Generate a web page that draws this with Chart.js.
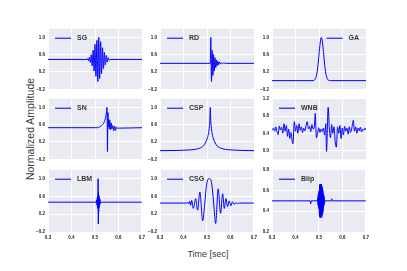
<!DOCTYPE html>
<html>
<head>
<meta charset="utf-8">
<script src="https://cdn.jsdelivr.net/npm/chart.js@4.4.0/dist/chart.umd.min.js"></script>
<style>
  body { margin: 0; background: #fff; width: 407px; height: 271px; position: relative; overflow: hidden; font-family: "Liberation Sans", Arial, sans-serif; }
  canvas { position: absolute; }
  .axis-title { position: absolute; color: #3a3a3a; white-space: nowrap; }
  #ylabel { left: 30px; top: 128.5px; font-size: 10.5px; transform: translate(-50%, -50%) rotate(-90deg); }
  #xlabel { left: 208px; top: 253.5px; font-size: 9px; transform: translate(-50%, -50%); }
</style>
</head>
<body>
<div class="axis-title" id="ylabel">Normalized Amplitude</div>
<div class="axis-title" id="xlabel">Time [sec]</div>
<script>
// tick values
const timeTicks = [0.3, 0.4, 0.5, 0.6, 0.7];
const ampTicks = [-0.2, 0.2, 0.6, 1.0];
const wnbTicks = [0.0, 0.4, 0.8, 1.2];
const blipTicks = [0.2, 0.4, 0.6, 0.8];

// waveforms
const sgTime = [0.300, 0.466, 0.468, 0.472, 0.476, 0.480, 0.484, 0.488, 0.492, 0.496, 0.500, 0.504, 0.508, 0.512, 0.516, 0.520, 0.524, 0.528, 0.532, 0.536, 0.540, 0.544, 0.548, 0.552, 0.556, 0.560, 0.564, 0.700];
const sgAmp = [0.49, 0.49, 0.51, 0.46, 0.54, 0.42, 0.60, 0.34, 0.70, 0.22, 0.84, 0.10, 0.93, -0.02, 1.00, 0.05, 0.90, 0.16, 0.76, 0.28, 0.65, 0.36, 0.58, 0.43, 0.53, 0.47, 0.49, 0.49];

const rdTime = [0.300, 0.514, 0.516, 0.519, 0.522, 0.525, 0.528, 0.531, 0.534, 0.537, 0.540, 0.543, 0.546, 0.549, 0.552, 0.556, 0.560, 0.565, 0.570, 0.580, 0.700];
const rdAmp = [0.40, 0.40, 1.00, -0.02, 0.70, 0.12, 0.60, 0.22, 0.53, 0.30, 0.48, 0.34, 0.45, 0.37, 0.43, 0.38, 0.42, 0.39, 0.41, 0.40, 0.40];

const gaTime = [0.300, 0.470, 0.480, 0.485, 0.490, 0.495, 0.500, 0.505, 0.510, 0.515, 0.520, 0.525, 0.530, 0.535, 0.540, 0.550, 0.700];
const gaAmp = [0.00, 0.00, 0.01, 0.05, 0.14, 0.32, 0.60, 0.87, 1.00, 0.87, 0.60, 0.32, 0.14, 0.05, 0.01, 0.00, 0.00];

const snTime = [0.300, 0.510, 0.520, 0.528, 0.535, 0.540, 0.544, 0.547, 0.549, 0.551, 0.552, 0.553, 0.554, 0.555, 0.557, 0.559, 0.561, 0.563, 0.566, 0.569, 0.572, 0.576, 0.580, 0.584, 0.588, 0.592, 0.596, 0.700];
const snAmp = [0.53, 0.53, 0.55, 0.58, 0.62, 0.67, 0.74, 0.82, 0.90, 1.00, 0.70, -0.02, 0.40, 0.88, 0.55, 0.72, 0.50, 0.70, 0.48, 0.64, 0.50, 0.58, 0.46, 0.56, 0.47, 0.54, 0.52, 0.53];

const cspTime = [0.300, 0.380, 0.420, 0.450, 0.470, 0.485, 0.495, 0.502, 0.507, 0.510, 0.512, 0.514, 0.516, 0.518, 0.521, 0.526, 0.533, 0.543, 0.558, 0.578, 0.608, 0.648, 0.700];
const cspAmp = [0.00, 0.005, 0.015, 0.03, 0.06, 0.11, 0.20, 0.30, 0.42, 0.55, 0.70, 1.00, 0.70, 0.55, 0.42, 0.30, 0.20, 0.11, 0.06, 0.03, 0.015, 0.005, 0.00];

const wnbTime = [0.300, 0.306, 0.311, 0.316, 0.321, 0.326, 0.331, 0.336, 0.341, 0.346, 0.351, 0.356, 0.361, 0.366, 0.371, 0.376, 0.381, 0.386, 0.389, 0.395, 0.400, 0.405, 0.410, 0.415, 0.420, 0.425, 0.430, 0.435, 0.440, 0.445, 0.450, 0.455, 0.460, 0.465, 0.470, 0.475, 0.480, 0.484, 0.489, 0.494, 0.499, 0.504, 0.509, 0.514, 0.519, 0.524, 0.529, 0.532, 0.539, 0.544, 0.549, 0.554, 0.559, 0.564, 0.569, 0.574, 0.579, 0.584, 0.589, 0.594, 0.599, 0.604, 0.609, 0.614, 0.619, 0.624, 0.629, 0.634, 0.639, 0.646, 0.651, 0.656, 0.661, 0.666, 0.671, 0.676, 0.681, 0.686, 0.691, 0.696, 0.700];
const wnbAmp = [0.47, 0.52, 0.45, 0.55, 0.44, 0.37, 0.57, 0.48, 0.54, 0.40, 0.62, 0.45, 0.58, 0.33, 0.50, 0.28, 0.42, 0.22, 0.16, 0.67, 0.45, 0.58, 0.40, 0.62, 0.47, 0.55, 0.42, 0.52, 0.46, 0.58, 0.67, 0.50, 0.56, 0.44, 0.60, 0.50, 0.55, 0.86, 0.30, 0.40, 0.53, 0.42, 0.50, 0.44, 0.52, 0.36, 0.62, -0.02, 1.00, 0.50, 0.30, 0.60, 0.40, 0.55, 0.20, 0.08, 0.55, 0.40, 0.58, 0.28, 0.52, 0.36, 0.56, 0.45, 0.52, 0.38, 0.55, 0.42, 0.50, 0.70, 0.45, 0.55, 0.40, 0.52, 0.46, 0.54, 0.43, 0.50, 0.47, 0.52, 0.48];

const lbmTime = [0.300, 0.505, 0.507, 0.509, 0.510, 0.511, 0.512, 0.513, 0.5135, 0.514, 0.5145, 0.515, 0.516, 0.517, 0.518, 0.519, 0.520, 0.522, 0.524, 0.527, 0.700];
const lbmAmp = [0.47, 0.47, 0.52, 0.40, 0.57, 0.33, 0.62, 0.45, 1.00, 0.30, -0.02, 0.70, 0.25, 0.62, 0.35, 0.57, 0.40, 0.53, 0.44, 0.47, 0.47];

const csgTime = [0.300, 0.415, 0.419, 0.423, 0.427, 0.431, 0.435, 0.442, 0.452, 0.460, 0.470, 0.482, 0.490, 0.496, 0.502, 0.510, 0.518, 0.524, 0.531, 0.537, 0.548, 0.558, 0.567, 0.574, 0.581, 0.588, 0.595, 0.602, 0.609, 0.616, 0.623, 0.630, 0.640, 0.700];
const csgAmp = [0.45, 0.45, 0.47, 0.43, 0.49, 0.40, 0.51, 0.33, 0.55, 0.29, 0.70, 0.05, 0.40, 0.75, 0.95, 1.00, 0.95, 0.72, 0.30, -0.01, 0.77, 0.22, 0.66, 0.33, 0.55, 0.37, 0.50, 0.39, 0.48, 0.42, 0.46, 0.44, 0.45, 0.45];

const blipTime = [0.300, 0.463, 0.465, 0.467, 0.493, 0.495, 0.496, 0.497, 0.498, 0.499, 0.500, 0.501, 0.502, 0.5027, 0.5034, 0.5041, 0.5048, 0.5055, 0.5062, 0.5069, 0.5076, 0.5083, 0.5090, 0.5097, 0.5104, 0.5111, 0.5118, 0.5125, 0.5132, 0.5139, 0.5146, 0.5153, 0.5160, 0.5167, 0.5174, 0.518, 0.519, 0.520, 0.521, 0.522, 0.523, 0.525, 0.553, 0.555, 0.557, 0.700];
const blipAmp = [0.50, 0.50, 0.47, 0.50, 0.50, 0.53, 0.46, 0.56, 0.44, 0.58, 0.42, 0.60, 0.36, 0.65, 0.35, 0.66, 0.34, 0.66, 0.34, 0.65, 0.35, 0.66, 0.34, 0.65, 0.35, 0.66, 0.34, 0.64, 0.36, 0.63, 0.37, 0.62, 0.38, 0.60, 0.40, 0.57, 0.44, 0.56, 0.45, 0.54, 0.47, 0.50, 0.50, 0.52, 0.50, 0.50];

const panels = [
  { name: 'SG', time: sgTime, amp: sgAmp, ticks: ampTicks, min: -0.2, max: 1.2 },
  { name: 'RD', time: rdTime, amp: rdAmp, ticks: ampTicks, min: -0.2, max: 1.2 },
  { name: 'GA', time: gaTime, amp: gaAmp, ticks: ampTicks, min: -0.2, max: 1.2, right: true },
  { name: 'SN', time: snTime, amp: snAmp, ticks: ampTicks, min: -0.2, max: 1.2 },
  { name: 'CSP', time: cspTime, amp: cspAmp, ticks: ampTicks, min: -0.2, max: 1.2 },
  { name: 'WNB', time: wnbTime, amp: wnbAmp, ticks: wnbTicks, min: -0.2, max: 1.2 },
  { name: 'LBM', time: lbmTime, amp: lbmAmp, ticks: ampTicks, min: -0.2, max: 1.2 },
  { name: 'CSG', time: csgTime, amp: csgAmp, ticks: ampTicks, min: -0.2, max: 1.2 },
  { name: 'Blip', time: blipTime, amp: blipAmp, ticks: blipTicks, min: 0.2, max: 0.8 }
];

// layout of the 3x3 grid (pixels)
const colLeft = [48, 160, 272];
const rowTop = [27, 97, 168];
const plotW = 94, plotH = 64, axisW = 22, padTop = 4, padRight = 6, padBottom = 4, xAxisH = 12;

const tickFont = { family: '"Liberation Sans", Arial, sans-serif', size: 4.5, weight: 'bold' };
const fmt = v => v.toFixed(1).replace('-', '\u2212');

const plotBg = {
  id: 'plotBg',
  beforeDraw(chart) {
    const { ctx, chartArea: a } = chart;
    ctx.save();
    ctx.fillStyle = '#eaeaf2';
    ctx.fillRect(a.left, a.top, a.right - a.left, a.bottom - a.top);
    ctx.restore();
  }
};

// legend drawn inside the plot area
const innerLegend = {
  id: 'innerLegend',
  afterDatasetsDraw(chart, args, opts) {
    const { ctx, chartArea: a } = chart;
    ctx.save();
    ctx.font = 'bold 7px "Liberation Sans", Arial, sans-serif';
    const tw = ctx.measureText(opts.text).width;
    const y = a.top + 9.5;
    const x0 = opts.right ? a.right - 7 - tw - 22 : a.left + 7;
    ctx.strokeStyle = 'blue';
    ctx.lineWidth = 1.1;
    ctx.beginPath();
    ctx.moveTo(x0, y);
    ctx.lineTo(x0 + 16, y);
    ctx.stroke();
    ctx.fillStyle = '#333';
    ctx.textBaseline = 'middle';
    ctx.fillText(opts.text, x0 + 22, y);
    ctx.restore();
  }
};

panels.forEach((p, i) => {
  const col = i % 3, row = Math.floor(i / 3);
  const bottom = row === 2;
  const canvas = document.createElement('canvas');
  canvas.width = axisW + plotW + padRight;
  canvas.height = padTop + plotH + (bottom ? xAxisH : padBottom);
  canvas.style.left = (colLeft[col] - axisW) + 'px';
  canvas.style.top = (rowTop[row] - padTop) + 'px';
  document.body.appendChild(canvas);

  new Chart(canvas, {
    type: 'line',
    data: {
      datasets: [{
        data: p.time.map((t, k) => ({ x: t, y: p.amp[k] })),
        borderColor: 'blue',
        borderWidth: 1,
        pointRadius: 0,
        cubicInterpolationMode: 'monotone'
      }]
    },
    options: {
      responsive: false,
      animation: false,
      devicePixelRatio: 1,
      layout: { padding: { top: padTop, right: padRight, bottom: bottom ? 0 : padBottom, left: 0 } },
      plugins: {
        legend: { display: false },
        tooltip: { enabled: false },
        innerLegend: { text: p.name, right: !!p.right }
      },
      scales: {
        x: {
          type: 'linear',
          min: 0.3,
          max: 0.7,
          afterBuildTicks: ax => { ax.ticks = timeTicks.map(v => ({ value: v })); },
          afterFit: ax => { ax.height = bottom ? xAxisH : 0; },
          grid: { color: '#ffffff', lineWidth: 1, drawTicks: false },
          border: { display: false },
          ticks: { display: bottom, padding: 3, maxRotation: 0, font: tickFont, color: '#222', callback: fmt }
        },
        y: {
          min: p.min,
          max: p.max,
          afterBuildTicks: ax => { ax.ticks = p.ticks.map(v => ({ value: v })); },
          afterFit: ax => { ax.width = axisW; },
          grid: { color: '#ffffff', lineWidth: 1, drawTicks: false },
          border: { display: false },
          ticks: { padding: 3, font: tickFont, color: '#222', callback: fmt }
        }
      }
    },
    plugins: [plotBg, innerLegend]
  });
});
</script>
</body>
</html>
